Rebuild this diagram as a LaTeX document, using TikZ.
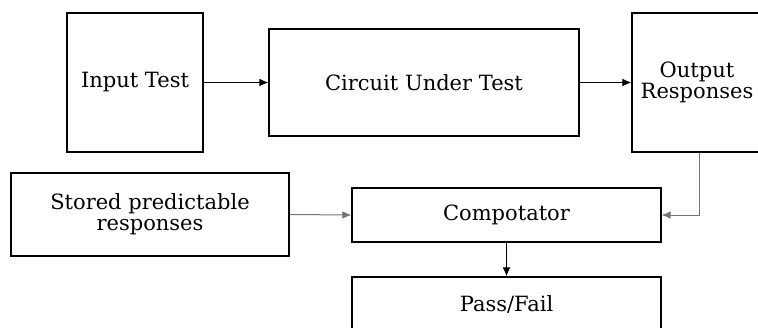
\documentclass[tikz,border=0pt]{standalone}
\usepackage{fontspec}
\setmainfont{DejaVu Serif}
\usepackage{tikz}
\usetikzlibrary{arrows.meta,positioning}
\tikzset{
  block/.style={rectangle, draw=black, line width=0.6pt, align=center,
                inner sep=2pt, font=\fontsize{10.5}{10.3}\selectfont},
  link/.style={-{Latex[length=4.5pt,width=3.8pt]}, line width=0.5pt, draw=black},
  softlink/.style={link, draw=black!55},
}
\begin{document}
\begin{tikzpicture}[x=0.5pt, y=-0.5pt]
  \clip (0,0) rectangle (758,327);
  % top row: stimulus, device, what comes out
  \node[block, minimum width=68pt, minimum height=69.5pt] (input) at (135,82.5) {Input Test};
  \node[block, minimum width=155pt, minimum height=53.5pt] (cut) at (424,82.5) {Circuit Under Test};
  \node[block, minimum width=65pt, minimum height=69.5pt] (out) at (697,82.5) {Output\\Responses};
  % lower part: reference data and checking
  \node[block, minimum width=139pt, minimum height=41.5pt] (ref) at (150,214.5) {Stored predictable\\responses};
  \node[block, minimum width=154.5pt, minimum height=27pt] (cmp) at (506.5,215) {Compotator};
  \node[block, minimum width=154.5pt, minimum height=27pt] (verdict) at (506.5,304) {Pass/Fail};
  \draw[link] (input)--(cut);
  \draw[link] (cut)--(out);
  \draw[softlink] ([xshift=1pt]out.south) |- (cmp.east);
  \draw[softlink] (ref.east)--(cmp.west);
  \draw[link] (cmp)--(verdict);
\end{tikzpicture}
\end{document}
